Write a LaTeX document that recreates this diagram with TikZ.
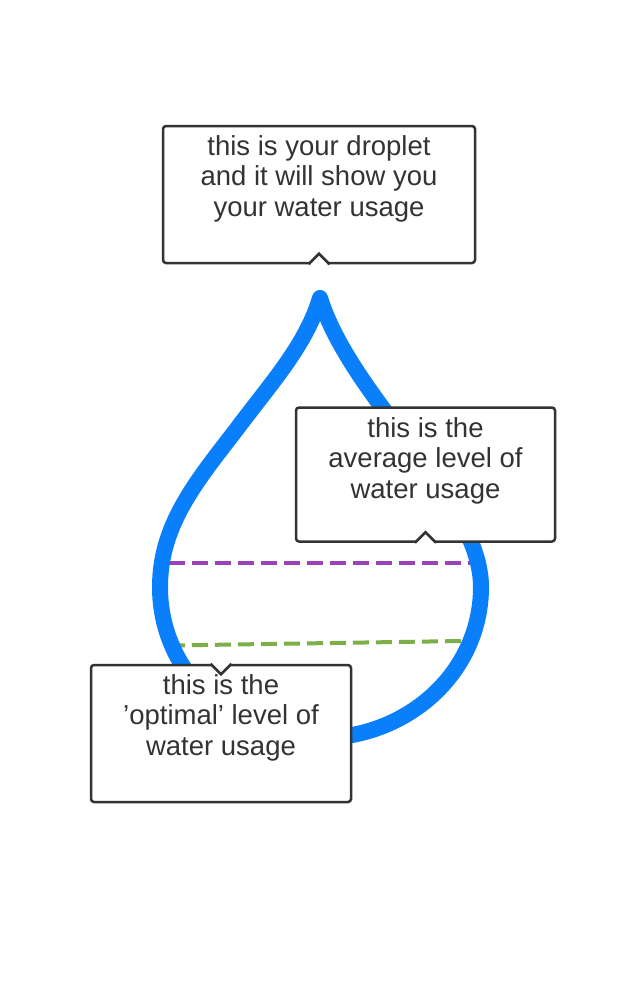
\documentclass[tikz,border=0pt]{standalone}
\usepackage{fontspec}
\setmainfont{Liberation Sans}
\definecolor{drop}{HTML}{0A7FFB}
\definecolor{ink}{HTML}{333333}
\definecolor{avg}{HTML}{9B42B8}
\definecolor{opt}{HTML}{7DAE48}
\tikzset{
  x=1pt,y=-1pt,
  calloutbox/.style={draw=ink,line width=2.5pt,fill=white,rounded corners=3pt,minimum width=#1,minimum height=137pt,inner sep=0pt},
  tailline/.style={draw=ink,fill=white,line width=2.5pt,line join=miter},
  calltext/.style={text=ink,align=center,font=\fontsize{27.5}{30.6}\selectfont,inner sep=0pt,anchor=north},
  level/.style={line width=4pt,dash pattern=on 16pt off 7pt},
}
\begin{document}
\begin{tikzpicture}
\useasboundingbox[fill=white] (0,0) rectangle (639,998);
% levels
\draw[level,avg] (169,563) -- (474,563);
\draw[level,opt] (169,645.5) -- (462,641);
% droplet
\draw[drop,line width=16pt,line join=round,line cap=round]
  (320,298)
  .. controls (306,345) and (272,382) .. (236,430)
  .. controls (196,482) and (160,525) .. (160,587)
  .. controls (160,672) and (230,738) .. (320,738)
  .. controls (408,738) and (481,672) .. (481,587)
  .. controls (481,500) and (352,400) .. (320,298) -- cycle;
% callout 1
\node[calloutbox={312pt}] (boxa) at (319,194.5) {};
\draw[tailline] ([xshift=-10.5pt]boxa.south) -- ([yshift=10.5pt]boxa.south) -- ([xshift=10.5pt]boxa.south);
\fill[white] ([xshift=-9pt,yshift=-1.3pt]boxa.south) -- ([yshift=7.5pt]boxa.south) -- ([xshift=9pt,yshift=-1.3pt]boxa.south) -- cycle;
\node[calltext] (texta) at (319,135) {this is your droplet\\and it will show you\\your water usage};
% callout 2
\node[calloutbox={259pt},minimum height=134pt] (boxb) at (425.5,474.5) {};
\draw[tailline] ([xshift=-10.5pt]boxb.south) -- ([yshift=10.5pt]boxb.south) -- ([xshift=10.5pt]boxb.south);
\fill[white] ([xshift=-9pt,yshift=-1.3pt]boxb.south) -- ([yshift=7.5pt]boxb.south) -- ([xshift=9pt,yshift=-1.3pt]boxb.south) -- cycle;
\node[calltext] (textb) at (425.5,417) {this is the\\average level of\\water usage};
% callout 3
\node[calloutbox={260pt}] (boxc) at (221,733.5) {};
\draw[tailline] ([xshift=-10.5pt]boxc.north) -- ([yshift=-10.5pt]boxc.north) -- ([xshift=10.5pt]boxc.north);
\fill[white] ([xshift=-9pt,yshift=1.3pt]boxc.north) -- ([yshift=-7.5pt]boxc.north) -- ([xshift=9pt,yshift=1.3pt]boxc.north) -- cycle;
\node[calltext] (textc) at (221,674) {this is the\\'optimal' level of\\water usage};
\end{tikzpicture}
\end{document}
